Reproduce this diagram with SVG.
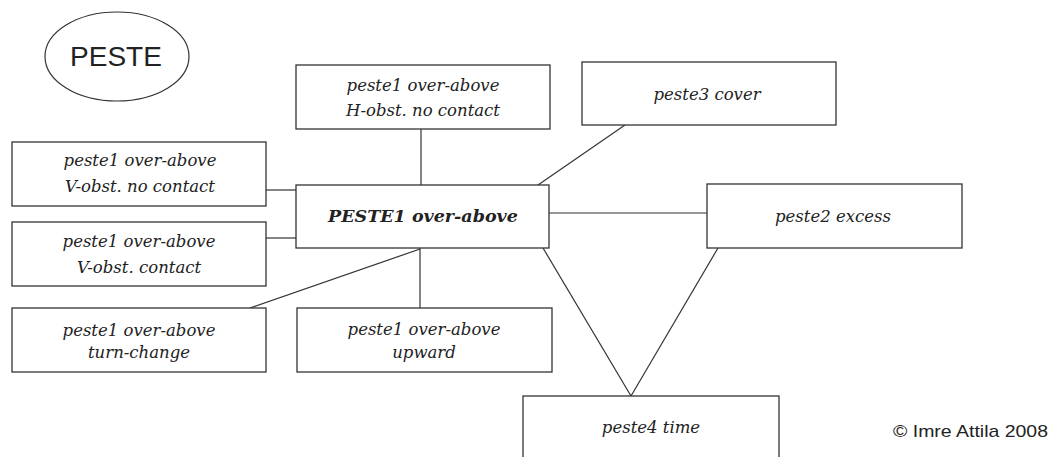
<svg xmlns="http://www.w3.org/2000/svg" width="1052" height="457" viewBox="0 0 1052 457">
<style>
.box{fill:#fff;stroke:#333;stroke-width:1.3}
.t{font-family:"DejaVu Serif","Liberation Serif",serif;font-style:italic;font-size:16.5px;fill:#222;text-anchor:middle}
.b{font-weight:bold;font-size:17.5px}
.s{font-family:"Liberation Sans",Arial,sans-serif;fill:#222}
#edges line{stroke:#333;stroke-width:1.2}
</style>
<rect width="1052" height="457" fill="#fff"/>
<g id="edges">
<line x1="421" y1="129" x2="421" y2="185"/>
<line x1="538" y1="185" x2="625" y2="125"/>
<line x1="549" y1="213" x2="707" y2="213"/>
<line x1="266" y1="190" x2="296" y2="190"/>
<line x1="266" y1="238" x2="296" y2="238"/>
<line x1="420" y1="249" x2="250" y2="308"/>
<line x1="420" y1="248" x2="420" y2="308"/>
<line x1="543" y1="248" x2="631" y2="396"/>
<line x1="718" y1="248" x2="631" y2="396"/>
</g>
<g id="title">
<ellipse cx="117" cy="56.5" rx="72" ry="44.5" fill="#fff" stroke="#333" stroke-width="1.2"/>
<text class="s" x="116" y="66" font-size="28" text-anchor="middle">PESTE</text>
</g>
<g id="n-hobst">
<rect class="box" x="296" y="65" width="254" height="64"/>
<text class="t" x="423" y="91">peste1 over-above</text>
<text class="t" x="423" y="116">H-obst. no contact</text>
</g>
<g id="n-cover">
<rect class="box" x="582" y="62" width="254" height="63"/>
<text class="t" x="707" y="100">peste3 cover</text>
</g>
<g id="n-main">
<rect class="box" x="296" y="185" width="253" height="63"/>
<text class="t b" x="423" y="222">PESTE1 over-above</text>
</g>
<g id="n-excess">
<rect class="box" x="707" y="184" width="255" height="64"/>
<text class="t" x="833" y="222">peste2 excess</text>
</g>
<g id="n-vnocontact">
<rect class="box" x="12" y="142" width="254" height="64"/>
<text class="t" x="140" y="166">peste1 over-above</text>
<text class="t" x="140" y="192">V-obst. no contact</text>
</g>
<g id="n-vcontact">
<rect class="box" x="12" y="222" width="254" height="64"/>
<text class="t" x="139" y="247">peste1 over-above</text>
<text class="t" x="139" y="273">V-obst. contact</text>
</g>
<g id="n-turn">
<rect class="box" x="12" y="308" width="254" height="64"/>
<text class="t" x="139" y="336">peste1 over-above</text>
<text class="t" x="139" y="358">turn-change</text>
</g>
<g id="n-upward">
<rect class="box" x="297" y="308" width="255" height="64"/>
<text class="t" x="424" y="335">peste1 over-above</text>
<text class="t" x="424" y="358">upward</text>
</g>
<g id="n-time">
<rect class="box" x="523" y="396" width="256" height="70"/>
<text class="t" x="651" y="433">peste4 time</text>
</g>
<text class="s" x="893" y="437" font-size="17" textLength="155" lengthAdjust="spacingAndGlyphs">© Imre Attila 2008</text>
</svg>
